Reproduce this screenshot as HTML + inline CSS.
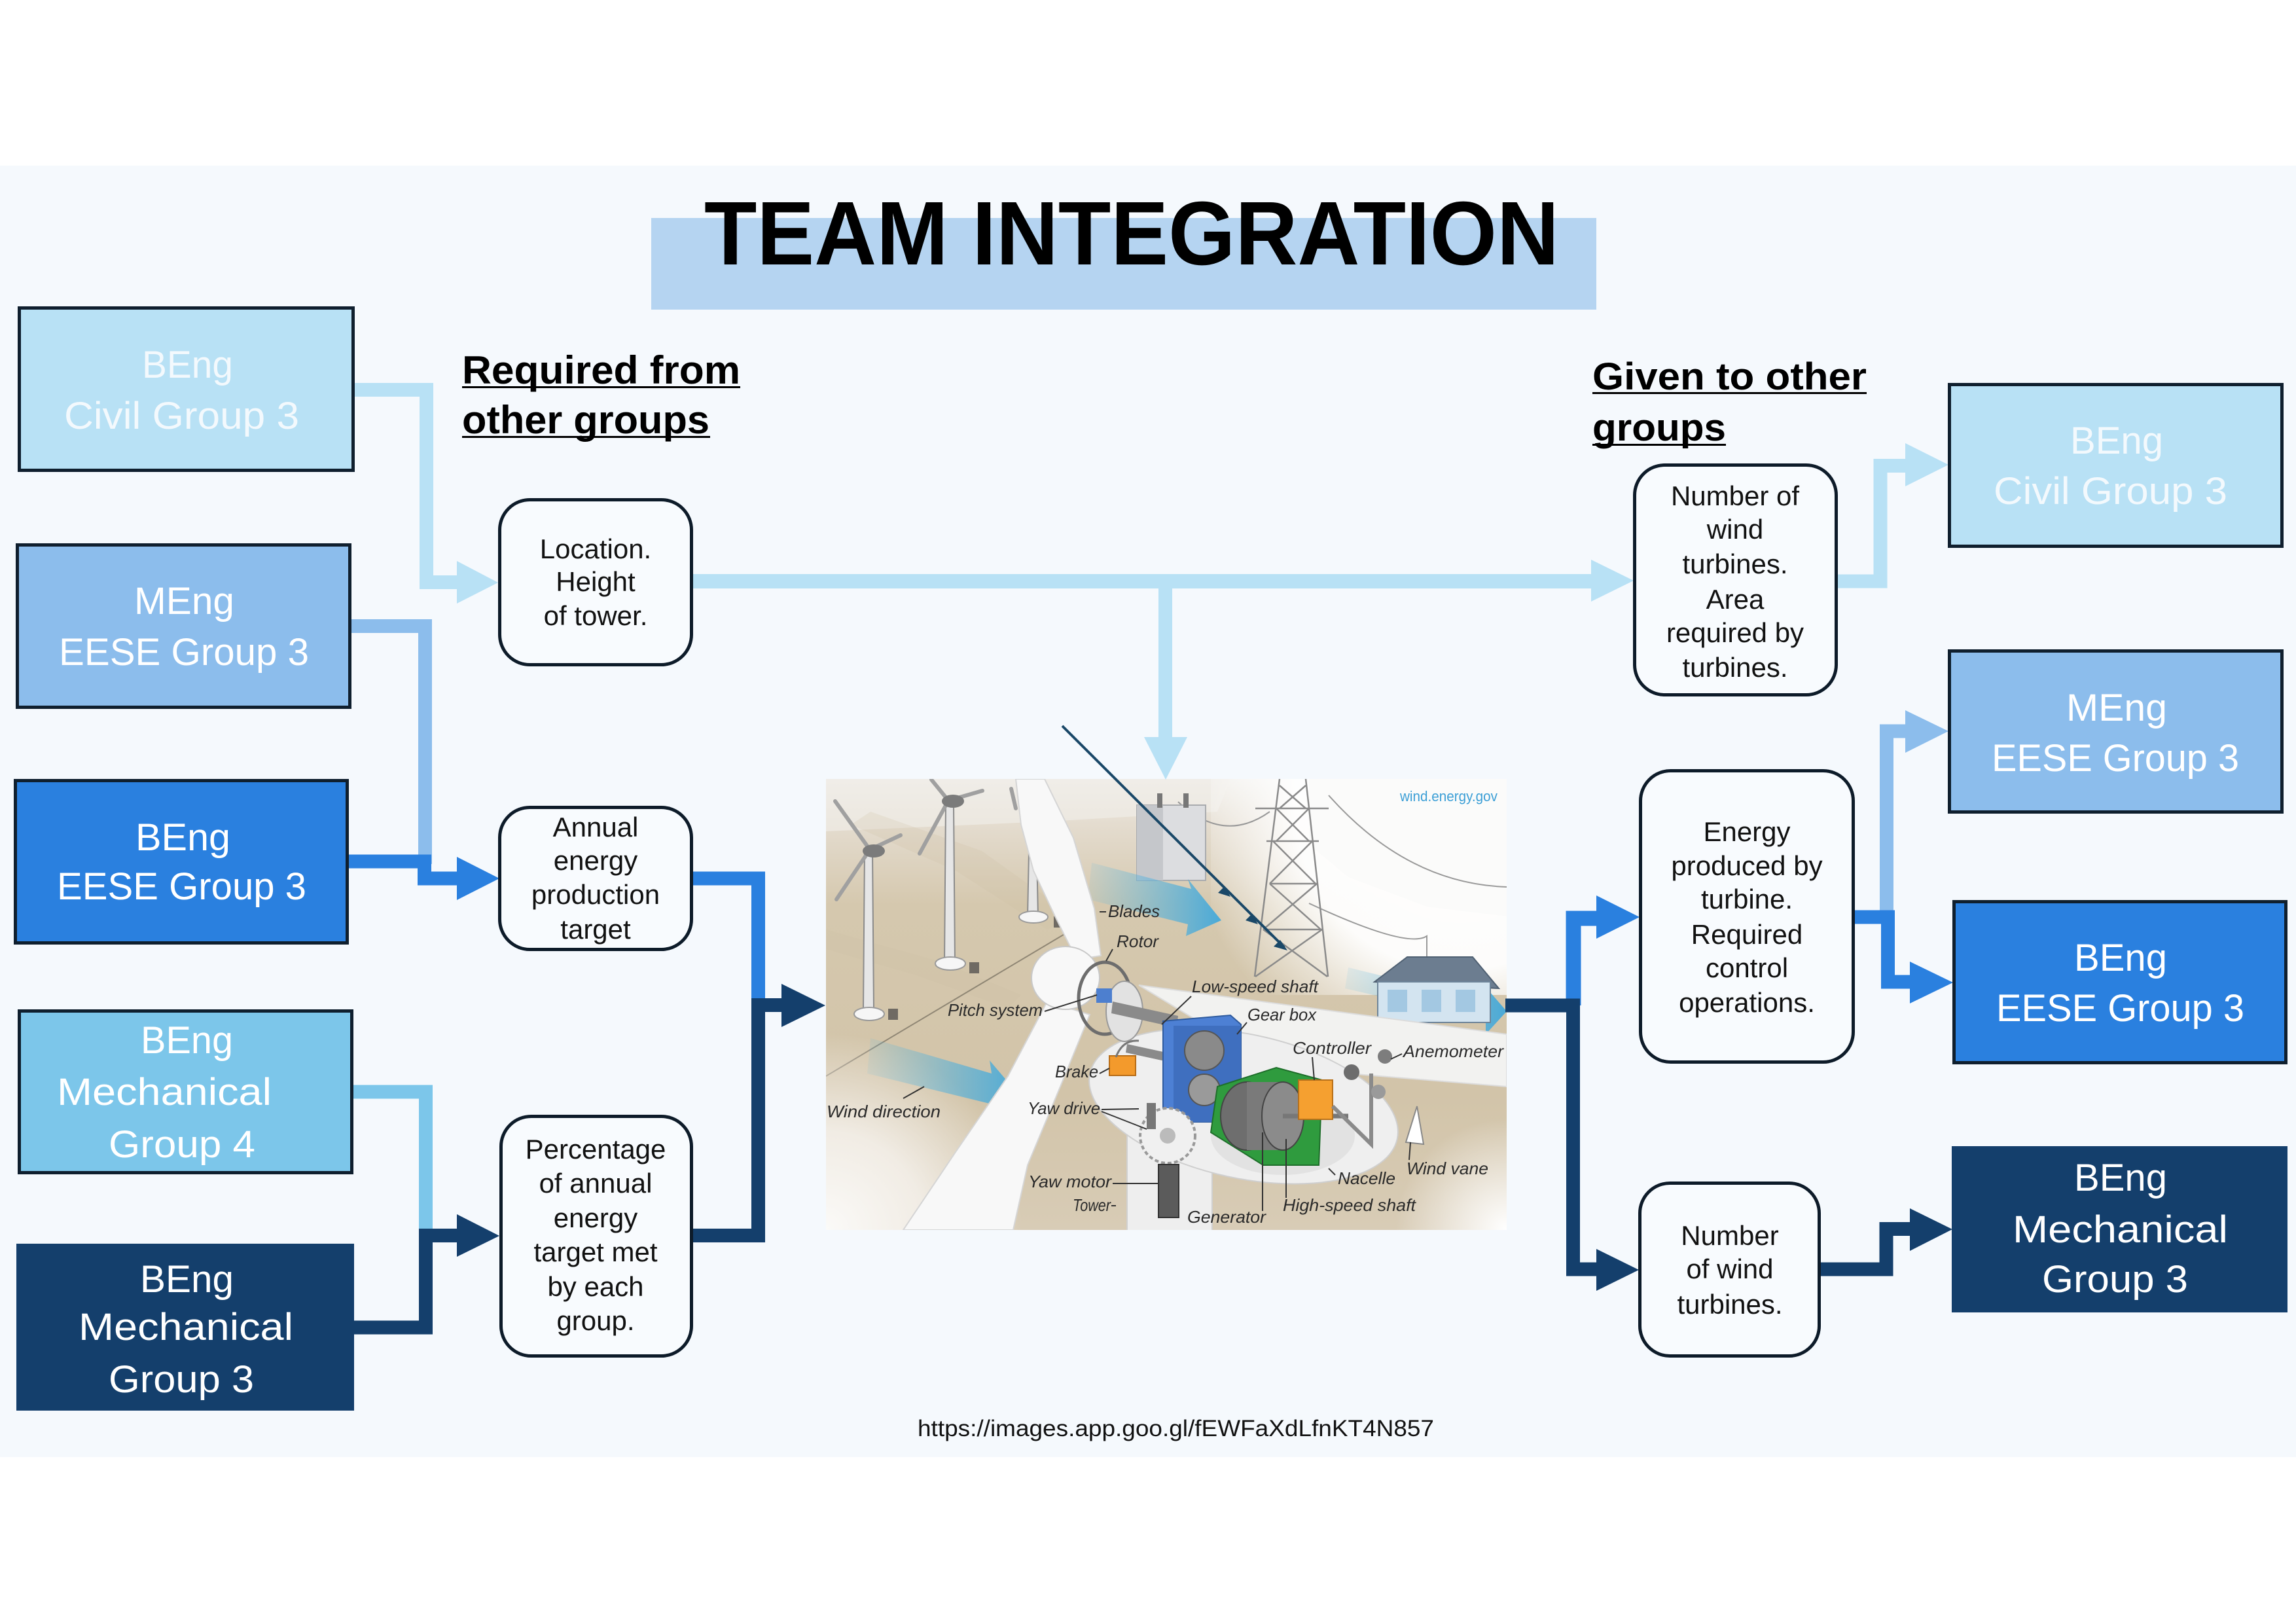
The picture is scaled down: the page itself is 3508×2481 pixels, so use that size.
<!DOCTYPE html>
<html><head><meta charset="utf-8"><style>html,body{margin:0;padding:0;background:#fff;}svg{display:block}</style></head>
<body>
<svg width="3508" height="2481" viewBox="0 0 3508 2481" xmlns="http://www.w3.org/2000/svg" font-family="'Liberation Sans', sans-serif">
<defs>
  <linearGradient id="ground" x1="0" y1="0" x2="0" y2="1">
    <stop offset="0" stop-color="#f1efeb"/>
    <stop offset="0.1" stop-color="#e4dccf"/>
    <stop offset="0.28" stop-color="#d5c8ae"/>
    <stop offset="0.7" stop-color="#d2c4a9"/>
    <stop offset="1" stop-color="#d8ccb6"/>
  </linearGradient>
  <radialGradient id="sky" cx="2230" cy="1230" r="420" gradientUnits="userSpaceOnUse">
    <stop offset="0" stop-color="#ffffff" stop-opacity="1"/>
    <stop offset="0.6" stop-color="#ffffff" stop-opacity="0.95"/>
    <stop offset="1" stop-color="#ffffff" stop-opacity="0"/>
  </radialGradient>
  <radialGradient id="lowleft" cx="1262" cy="1879" r="300" gradientUnits="userSpaceOnUse">
    <stop offset="0" stop-color="#fbfaf8" stop-opacity="1"/>
    <stop offset="0.5" stop-color="#f4f0ea" stop-opacity="0.9"/>
    <stop offset="1" stop-color="#f4f0ea" stop-opacity="0"/>
  </radialGradient>
  <radialGradient id="lowright" cx="2302" cy="1879" r="170" gradientUnits="userSpaceOnUse">
    <stop offset="0" stop-color="#ffffff" stop-opacity="1"/>
    <stop offset="1" stop-color="#ffffff" stop-opacity="0"/>
  </radialGradient>
  <linearGradient id="windarrow" x1="0" y1="0" x2="1" y2="0">
    <stop offset="0" stop-color="#5bb8e0" stop-opacity="0.1"/>
    <stop offset="1" stop-color="#3aa6dc" stop-opacity="0.9"/>
  </linearGradient>
  <clipPath id="imgclip"><rect x="1262" y="1190" width="1040" height="689"/></clipPath>
</defs>

<!-- page background -->
<rect x="0" y="0" width="3508" height="2481" fill="#ffffff"/>
<rect x="0" y="253" width="3508" height="1973" fill="#f5f9fd"/>

<!-- title -->
<rect x="995" y="333" width="1444" height="140" fill="#b5d4f1"/>
<text x="1076" y="404" font-size="138" font-weight="bold" fill="#000" textLength="1306" lengthAdjust="spacingAndGlyphs">TEAM INTEGRATION</text>

<!-- subheadings -->
<text x="706" y="586" font-size="60" font-weight="bold" fill="#000" textLength="425" lengthAdjust="spacingAndGlyphs">Required from</text>
<rect x="706" y="590" width="425" height="3" fill="#000"/>
<text x="706" y="662" font-size="60" font-weight="bold" fill="#000" textLength="378" lengthAdjust="spacingAndGlyphs">other groups</text>
<rect x="706" y="666" width="379" height="3" fill="#000"/>

<text x="2433" y="595" font-size="58" font-weight="bold" fill="#000" textLength="419" lengthAdjust="spacingAndGlyphs">Given to other</text>
<rect x="2433" y="599" width="419" height="3" fill="#000"/>
<text x="2433" y="673" font-size="58" font-weight="bold" fill="#000" textLength="204" lengthAdjust="spacingAndGlyphs">groups</text>
<rect x="2433" y="678" width="204" height="3" fill="#000"/>

<!-- ============ CENTER IMAGE ============ -->
<g clip-path="url(#imgclip)">
  <rect x="1262" y="1190" width="1040" height="689" fill="url(#ground)"/>
  <polygon points="1262,1190 1880,1190 1860,1240 1600,1255 1262,1270" fill="#efece7" opacity="0.7"/>
  <!-- subtle ground bands -->
  <polygon points="1330,1240 1500,1300 1640,1400 1600,1420 1460,1330 1300,1260" fill="#cdbfa5" opacity="0.22"/>
  <polygon points="1262,1420 1440,1470 1560,1520 1540,1540 1400,1490 1262,1450" fill="#cdbfa5" opacity="0.22"/>
  <line x1="1262" y1="1644" x2="1655" y2="1410" stroke="#8f8674" stroke-width="2"/>
  <rect x="1850" y="1190" width="452" height="330" fill="url(#sky)"/>
  <polygon points="2000,1190 2302,1190 2302,1400 2180,1385 2060,1340 2000,1290" fill="#fbfbfa"/>
  <rect x="1262" y="1560" width="420" height="319" fill="url(#lowleft)"/>
  <rect x="2100" y="1680" width="202" height="199" fill="url(#lowright)"/>

  <!-- power lines -->
  <path d="M1800,1225 Q1870,1290 1940,1240" stroke="#999" stroke-width="2" fill="none"/>
  <path d="M2030,1215 Q2150,1350 2302,1355" stroke="#999" stroke-width="2" fill="none"/>
  <path d="M2000,1380 Q2150,1450 2180,1430 L2180,1470" stroke="#999" stroke-width="2" fill="none"/>

  <!-- pylon -->
  <g stroke="#8a8a8a" stroke-width="2.5" fill="none">
    <line x1="1917" y1="1492" x2="1955" y2="1190"/>
    <line x1="2029" y1="1492" x2="1995" y2="1190"/>
    <line x1="1918" y1="1235" x2="2030" y2="1235"/>
    <line x1="1935" y1="1285" x2="2015" y2="1285"/>
    <line x1="1955" y1="1200" x2="1995" y2="1235"/>
    <line x1="1995" y1="1200" x2="1955" y2="1235"/>
    <line x1="1950" y1="1235" x2="2000" y2="1285"/>
    <line x1="2000" y1="1235" x2="1950" y2="1285"/>
    <line x1="1945" y1="1285" x2="2010" y2="1350"/>
    <line x1="2005" y1="1285" x2="1940" y2="1350"/>
    <line x1="1940" y1="1350" x2="2018" y2="1420"/>
    <line x1="2012" y1="1350" x2="1930" y2="1420"/>
    <line x1="1930" y1="1420" x2="2028" y2="1492"/>
    <line x1="2020" y1="1420" x2="1918" y2="1492"/>
    <line x1="1940" y1="1350" x2="2012" y2="1350"/>
    <line x1="1930" y1="1420" x2="2020" y2="1420"/>
  </g>

  <!-- transformer -->
  <rect x="1737" y="1230" width="105" height="115" fill="#dcdde0" stroke="#a9abae" stroke-width="2"/>
  <rect x="1737" y="1230" width="40" height="115" fill="#c5c7cb"/>
  <rect x="1768" y="1212" width="8" height="22" fill="#777"/>
  <rect x="1808" y="1212" width="8" height="22" fill="#777"/>

  <!-- wind arrows -->
  <polygon points="1668,1318 1820,1358 1815,1343 1866,1406 1812,1430 1815,1412 1662,1374" fill="url(#windarrow)"/>
  <polygon points="1330,1586 1515,1640 1512,1620 1562,1679 1512,1705 1512,1686 1325,1640" fill="url(#windarrow)"/>
  <polygon points="2060,1478 2270,1530 2270,1508 2302,1545 2270,1580 2270,1560 2055,1510" fill="url(#windarrow)"/>

  <!-- small turbines -->
  <g stroke="#8b8b8b" stroke-width="2" fill="#e6e6e6">
    <polygon points="1321,1300 1333,1300 1335,1540 1319,1540"/>
    <polygon points="1445,1228 1457,1228 1459,1472 1443,1472"/>
    <polygon points="1572,1300 1584,1300 1586,1401 1570,1401"/>
  </g>
  <g fill="#f6f6f6" stroke="#9a9a9a" stroke-width="2">
    <ellipse cx="1328" cy="1549" rx="23" ry="10"/>
    <ellipse cx="1452" cy="1472" rx="23" ry="10"/>
    <ellipse cx="1579" cy="1401" rx="22" ry="9"/>
  </g>
  <g stroke="#a0a0a0" stroke-width="6" stroke-linecap="round">
    <line x1="1329" y1="1298" x2="1276" y2="1224"/>
    <line x1="1329" y1="1298" x2="1376" y2="1276"/>
    <line x1="1329" y1="1298" x2="1278" y2="1374"/>
    <line x1="1449" y1="1223" x2="1423" y2="1191"/>
    <line x1="1449" y1="1223" x2="1501" y2="1208"/>
    <line x1="1449" y1="1223" x2="1405" y2="1304"/>
    <line x1="1552" y1="1235" x2="1545" y2="1205"/>
  </g>
  <ellipse cx="1335" cy="1300" rx="17" ry="10" fill="#7b7b7b"/>
  <ellipse cx="1456" cy="1224" rx="17" ry="10" fill="#7b7b7b"/>
  <g fill="#6f6a63">
    <rect x="1610" y="1400" width="15" height="17"/>
    <rect x="1481" y="1470" width="15" height="17"/>
    <rect x="1357" y="1541" width="15" height="17"/>
  </g>

  <!-- house -->
  <polygon points="2100,1500 2150,1462 2250,1462 2290,1510" fill="#6c7d90" stroke="#4f6072" stroke-width="2"/>
  <rect x="2105" y="1500" width="172" height="62" fill="#d3e4f0" stroke="#6d8499" stroke-width="2"/>
  <rect x="2120" y="1512" width="30" height="34" fill="#a3c8e2"/>
  <rect x="2172" y="1512" width="30" height="34" fill="#a3c8e2"/>
  <rect x="2224" y="1512" width="30" height="34" fill="#a3c8e2"/>

  <!-- tower of big turbine -->
  <rect x="1722" y="1700" width="130" height="190" fill="#eeeeee" stroke="#d0d0d0" stroke-width="2"/>
  <polygon points="1740,1505 2302,1580 2302,1660 2060,1640 1880,1590" fill="#f2f2f0" stroke="#dcdcdc" stroke-width="2"/>
  <ellipse cx="1900" cy="1690" rx="240" ry="110" transform="rotate(12 1900 1690)" fill="#efefef" stroke="#cfcfcf" stroke-width="2"/>
  <ellipse cx="1960" cy="1735" rx="110" ry="60" fill="#e2e2e2"/>
  <polygon points="1552,1190 1596,1190 1640,1280 1672,1388 1682,1460 1645,1466 1612,1400 1579,1330 1560,1260" fill="#f8f8f8" stroke="#d5d5d5" stroke-width="2"/>
  <polygon points="1600,1530 1665,1550 1620,1660 1570,1780 1548,1879 1380,1879 1460,1760 1540,1644" fill="#f8f8f8" stroke="#d5d5d5" stroke-width="2"/>
  <ellipse cx="1628" cy="1494" rx="52" ry="48" fill="#f8f8f8" stroke="#c8c8c8" stroke-width="2"/>
  <ellipse cx="1688" cy="1525" rx="40" ry="55" fill="none" stroke="#6d6d6d" stroke-width="5"/>
  <ellipse cx="1718" cy="1545" rx="28" ry="46" fill="#e2e2e2" stroke="#9a9a9a" stroke-width="2"/>
  <rect x="1675" y="1510" width="24" height="22" fill="#4d7fcf"/>
  <polygon points="1700,1530 1800,1552 1798,1570 1698,1548" fill="#8a8a8a"/>
  <polygon points="1722,1595 1800,1612 1798,1625 1720,1608" fill="#8a8a8a"/>
  <rect x="1695" y="1613" width="40" height="30" fill="#f39a2c" stroke="#b86d18" stroke-width="2"/>
  <path d="M1705,1615 Q1715,1588 1740,1590" stroke="#777" stroke-width="3" fill="none"/>
  <polygon points="1777,1560 1880,1551 1896,1565 1896,1714 1793,1714 1777,1700" fill="#4d80d4" stroke="#2f5b9e" stroke-width="2"/>
  <rect x="1793" y="1567" width="103" height="147" fill="#3f6fbf"/>
  <circle cx="1840" cy="1605" r="30" fill="#8a8a8a" stroke="#555" stroke-width="2"/>
  <circle cx="1840" cy="1665" r="24" fill="#9a9a9a" stroke="#555" stroke-width="2"/>
  <polygon points="1860,1660 1950,1631 2020,1650 2015,1780 1930,1780 1850,1730" fill="#2f9b3e" stroke="#1e6e2a" stroke-width="2"/>
  <ellipse cx="1905" cy="1705" rx="40" ry="52" fill="#6e6e6e" stroke="#444" stroke-width="2"/>
  <rect x="1905" y="1653" width="55" height="104" fill="#7a7a7a"/>
  <ellipse cx="1960" cy="1705" rx="32" ry="52" fill="#8b8b8b" stroke="#444" stroke-width="2"/>
  <line x1="1960" y1="1705" x2="2060" y2="1705" stroke="#777" stroke-width="7"/>
  <rect x="1984" y="1650" width="52" height="60" fill="#f5a030" stroke="#b8711b" stroke-width="2"/>
  <polyline points="2036,1690 2095,1748 2095,1640" stroke="#8a8a8a" stroke-width="6" fill="none"/>
  <circle cx="2065" cy="1638" r="12" fill="#6d6d6d"/>
  <circle cx="2116" cy="1614" r="11" fill="#7d7d7d"/>
  <circle cx="2106" cy="1668" r="11" fill="#9a9a9a"/>
  <polygon points="2165,1690 2148,1745 2175,1748" fill="#ffffff" stroke="#888" stroke-width="2"/>
  <circle cx="1784" cy="1735" r="42" fill="#f0f0f0" stroke="#999" stroke-width="4" stroke-dasharray="6 4"/>
  <circle cx="1784" cy="1735" r="12" fill="#bbb"/>
  <rect x="1752" y="1685" width="14" height="40" fill="#777"/>
  <rect x="1770" y="1779" width="31" height="81" fill="#5b5b5b" stroke="#333" stroke-width="2"/>

  <g stroke="#333" stroke-width="2" fill="none">
    <line x1="1680" y1="1393" x2="1690" y2="1393"/>
    <line x1="1700" y1="1450" x2="1690" y2="1468"/>
    <line x1="1820" y1="1522" x2="1775" y2="1565"/>
    <line x1="1596" y1="1545" x2="1676" y2="1520"/>
    <line x1="1905" y1="1562" x2="1890" y2="1580"/>
    <line x1="2005" y1="1615" x2="2008" y2="1650"/>
    <line x1="2142" y1="1610" x2="2125" y2="1618"/>
    <line x1="1680" y1="1640" x2="1695" y2="1632"/>
    <line x1="1380" y1="1678" x2="1412" y2="1660"/>
    <line x1="1683" y1="1695" x2="1740" y2="1694"/>
    <line x1="1683" y1="1698" x2="1752" y2="1725"/>
    <line x1="1700" y1="1808" x2="1770" y2="1808"/>
    <line x1="1698" y1="1842" x2="1705" y2="1842"/>
    <line x1="1929" y1="1850" x2="1929" y2="1730"/>
    <line x1="1965" y1="1830" x2="1965" y2="1740"/>
    <line x1="2040" y1="1795" x2="2030" y2="1785"/>
    <line x1="2153" y1="1772" x2="2155" y2="1745"/>
  </g>

  <g font-style="italic" font-size="26" fill="#2a2a2a">
    <text x="1693" y="1401" textLength="79" lengthAdjust="spacingAndGlyphs">Blades</text>
    <text x="1706" y="1447" textLength="64" lengthAdjust="spacingAndGlyphs">Rotor</text>
    <text x="1821" y="1516" textLength="193" lengthAdjust="spacingAndGlyphs">Low-speed shaft</text>
    <text x="1448" y="1552" textLength="145" lengthAdjust="spacingAndGlyphs">Pitch system</text>
    <text x="1906" y="1559" textLength="105" lengthAdjust="spacingAndGlyphs">Gear box</text>
    <text x="1975" y="1610" textLength="120" lengthAdjust="spacingAndGlyphs">Controller</text>
    <text x="2144" y="1615" textLength="153" lengthAdjust="spacingAndGlyphs">Anemometer</text>
    <text x="1612" y="1646" textLength="66" lengthAdjust="spacingAndGlyphs">Brake</text>
    <text x="1263" y="1707" textLength="174" lengthAdjust="spacingAndGlyphs">Wind direction</text>
    <text x="1570" y="1702" textLength="111" lengthAdjust="spacingAndGlyphs">Yaw drive</text>
    <text x="2149" y="1794" textLength="125" lengthAdjust="spacingAndGlyphs">Wind vane</text>
    <text x="2044" y="1809" textLength="88" lengthAdjust="spacingAndGlyphs">Nacelle</text>
    <text x="1571" y="1814" textLength="127" lengthAdjust="spacingAndGlyphs">Yaw motor</text>
    <text x="1639" y="1850" textLength="58" lengthAdjust="spacingAndGlyphs">Tower</text>
    <text x="1814" y="1868" textLength="120" lengthAdjust="spacingAndGlyphs">Generator</text>
    <text x="1960" y="1850" textLength="203" lengthAdjust="spacingAndGlyphs">High-speed shaft</text>
  </g>
  <text x="2139" y="1224" font-size="22" fill="#3c9fd6" textLength="149" lengthAdjust="spacingAndGlyphs">wind.energy.gov</text>
</g>

<!-- ============ CONNECTORS ============ -->
<g fill="none" stroke-width="21" stroke-linejoin="miter" stroke-linecap="butt">
  <polyline points="540,595.5 651.5,595.5 651.5,889.5 702,889.5" stroke="#b8e1f5"/>
  <polyline points="535,956.5 649.5,956.5 649.5,1320" stroke="#8cbdec"/>
  <polyline points="531,1316 648.5,1316 648.5,1342 702,1342" stroke="#2a80df"/>
  <polyline points="538,1668 650.5,1668 650.5,1892" stroke="#7cc6ea"/>
  <polyline points="539,2028 650.5,2028 650.5,1887.5 702,1887.5" stroke="#143f6c"/>
  <polyline points="1057,1342 1158.5,1342 1158.5,1540" stroke="#2a80df"/>
  <polyline points="1057,1887.5 1158.5,1887.5 1158.5,1535.5 1198,1535.5" stroke="#143f6c"/>
  <polyline points="1057,888 2435,888" stroke="#b8e1f5" stroke-width="22"/>
  <polyline points="1780.5,888 1780.5,1130" stroke="#b8e1f5"/>
  <polyline points="2806,888 2873,888 2873,711.5 2915,711.5" stroke="#b8e1f5"/>
  <polyline points="2404,1536 2404,1403 2443,1403" stroke="#2a80df" stroke-width="23"/>
  <polyline points="2300,1536 2403.5,1536 2403.5,1939 2443,1939" stroke="#143f6c"/>
  <polyline points="2882.5,1403 2882.5,1117 2915,1117" stroke="#8cbdec"/>
  <polyline points="2832,1401 2884.5,1401 2884.5,1500 2922,1500" stroke="#2a80df"/>
  <polyline points="2780,1939 2882,1939 2882,1877.5 2922,1877.5" stroke="#143f6c"/>
</g>
<polygon points="698,857 761,890 698,922" fill="#b8e1f5"/>
<polygon points="698,1309 763,1342 698,1375" fill="#2a80df"/>
<polygon points="698,1855 763,1888 698,1920" fill="#143f6c"/>
<polygon points="1194,1503 1261,1536 1194,1569" fill="#143f6c"/>
<polygon points="2431,855 2496,887 2431,919" fill="#b8e1f5"/>
<polygon points="1748,1126 1781,1191 1814,1126" fill="#b8e1f5"/>
<polygon points="2911,677 2977,710 2911,743" fill="#b8e1f5"/>
<polygon points="2439,1368 2505,1401 2439,1434" fill="#2a80df"/>
<polygon points="2439,1908 2504,1940 2439,1972" fill="#143f6c"/>
<polygon points="2911,1085 2977,1117 2911,1150" fill="#8cbdec"/>
<polygon points="2918,1469 2984,1501 2918,1533" fill="#2a80df"/>
<polygon points="2918,1846 2983,1878 2918,1911" fill="#143f6c"/>

<line x1="1623" y1="1109" x2="1962" y2="1447" stroke="#1a4868" stroke-width="4"/>
<polygon points="1967,1452 1946,1446 1956,1436" fill="#1a4868"/>
<polygon points="1922,1412 1903,1406 1913,1396" fill="#1a4868"/>
<polygon points="1880,1370 1861,1364 1871,1354" fill="#1a4868"/>

<!-- ============ GROUP BOXES ============ -->
<g stroke="#0f1f2e" stroke-width="5">
  <rect x="29.5" y="470.5" width="510" height="248" fill="#b8e1f5"/>
  <rect x="26.5" y="832.5" width="508" height="248" fill="#8cbdec"/>
  <rect x="23.5" y="1192.5" width="507" height="248" fill="#2a80df"/>
  <rect x="29.5" y="1544.5" width="508" height="247" fill="#7cc6ea"/>
  <rect x="2978.5" y="587.5" width="508" height="247" fill="#b8e1f5"/>
  <rect x="2978.5" y="994.5" width="508" height="246" fill="#8cbdec"/>
  <rect x="2985.5" y="1377.5" width="507" height="246" fill="#2a80df"/>
</g>
<rect x="25" y="1900" width="516" height="255" fill="#143f6c"/>
<rect x="2982" y="1751" width="513" height="254" fill="#143f6c"/>

<g font-size="58" fill="#ffffff">
  <text x="217" y="577" textLength="139" lengthAdjust="spacingAndGlyphs" fill="#f3f9fd">BEng</text>
  <text x="98" y="655" textLength="359" lengthAdjust="spacingAndGlyphs" fill="#f3f9fd">Civil Group 3</text>
  <text x="205" y="938" textLength="153" lengthAdjust="spacingAndGlyphs">MEng</text>
  <text x="90" y="1016" textLength="382" lengthAdjust="spacingAndGlyphs">EESE Group 3</text>
  <text x="207" y="1299" textLength="145" lengthAdjust="spacingAndGlyphs">BEng</text>
  <text x="87" y="1374" textLength="381" lengthAdjust="spacingAndGlyphs">EESE Group 3</text>
  <text x="215" y="1609" textLength="141" lengthAdjust="spacingAndGlyphs">BEng</text>
  <text x="87" y="1688" textLength="328" lengthAdjust="spacingAndGlyphs">Mechanical</text>
  <text x="166" y="1768" textLength="224" lengthAdjust="spacingAndGlyphs">Group 4</text>
  <text x="214" y="1974" textLength="143" lengthAdjust="spacingAndGlyphs">BEng</text>
  <text x="120" y="2047" textLength="328" lengthAdjust="spacingAndGlyphs">Mechanical</text>
  <text x="166" y="2127" textLength="222" lengthAdjust="spacingAndGlyphs">Group 3</text>

  <text x="3163" y="693" textLength="142" lengthAdjust="spacingAndGlyphs" fill="#f3f9fd">BEng</text>
  <text x="3046" y="770" textLength="357" lengthAdjust="spacingAndGlyphs" fill="#f3f9fd">Civil Group 3</text>
  <text x="3157" y="1101" textLength="154" lengthAdjust="spacingAndGlyphs">MEng</text>
  <text x="3043" y="1178" textLength="378" lengthAdjust="spacingAndGlyphs">EESE Group 3</text>
  <text x="3169" y="1483" textLength="142" lengthAdjust="spacingAndGlyphs">BEng</text>
  <text x="3050" y="1560" textLength="379" lengthAdjust="spacingAndGlyphs">EESE Group 3</text>
  <text x="3169" y="1819" textLength="142" lengthAdjust="spacingAndGlyphs">BEng</text>
  <text x="3075" y="1898" textLength="329" lengthAdjust="spacingAndGlyphs">Mechanical</text>
  <text x="3120" y="1974" textLength="223" lengthAdjust="spacingAndGlyphs">Group 3</text>
</g>

<!-- ============ ROUNDED INFO BOXES ============ -->
<g stroke="#0d1b29" stroke-width="5" fill="#f8fbfe">
  <rect x="763.5" y="763.5" width="293" height="252" rx="46" ry="46"/>
  <rect x="763.5" y="1233.5" width="293" height="217" rx="46" ry="46"/>
  <rect x="765.5" y="1705.5" width="291" height="366" rx="46" ry="46"/>
  <rect x="2497.5" y="710.5" width="308" height="351" rx="46" ry="46"/>
  <rect x="2506.5" y="1177.5" width="325" height="445" rx="46" ry="46"/>
  <rect x="2505.5" y="1807.5" width="274" height="264" rx="46" ry="46"/>
</g>

<g font-size="42" fill="#111" text-anchor="middle">
  <text x="910" y="853">Location.</text>
  <text x="910" y="903">Height</text>
  <text x="910" y="955">of tower.</text>

  <text x="910" y="1278">Annual</text>
  <text x="910" y="1329">energy</text>
  <text x="910" y="1381">production</text>
  <text x="910" y="1434">target</text>

  <text x="910" y="1770">Percentage</text>
  <text x="910" y="1822">of annual</text>
  <text x="910" y="1875">energy</text>
  <text x="910" y="1927">target met</text>
  <text x="910" y="1980">by each</text>
  <text x="910" y="2032">group.</text>

  <text x="2651" y="772">Number of</text>
  <text x="2651" y="823">wind</text>
  <text x="2651" y="876">turbines.</text>
  <text x="2651" y="930">Area</text>
  <text x="2651" y="981">required by</text>
  <text x="2651" y="1034">turbines.</text>

  <text x="2669" y="1285">Energy</text>
  <text x="2669" y="1337">produced by</text>
  <text x="2669" y="1388">turbine.</text>
  <text x="2669" y="1442">Required</text>
  <text x="2669" y="1493">control</text>
  <text x="2669" y="1546">operations.</text>

  <text x="2643" y="1902">Number</text>
  <text x="2643" y="1953">of wind</text>
  <text x="2643" y="2007">turbines.</text>
</g>

<text x="1402" y="2194" font-size="35" fill="#111" textLength="789" lengthAdjust="spacingAndGlyphs">https://images.app.goo.gl/fEWFaXdLfnKT4N857</text>
</svg>
</body></html>
